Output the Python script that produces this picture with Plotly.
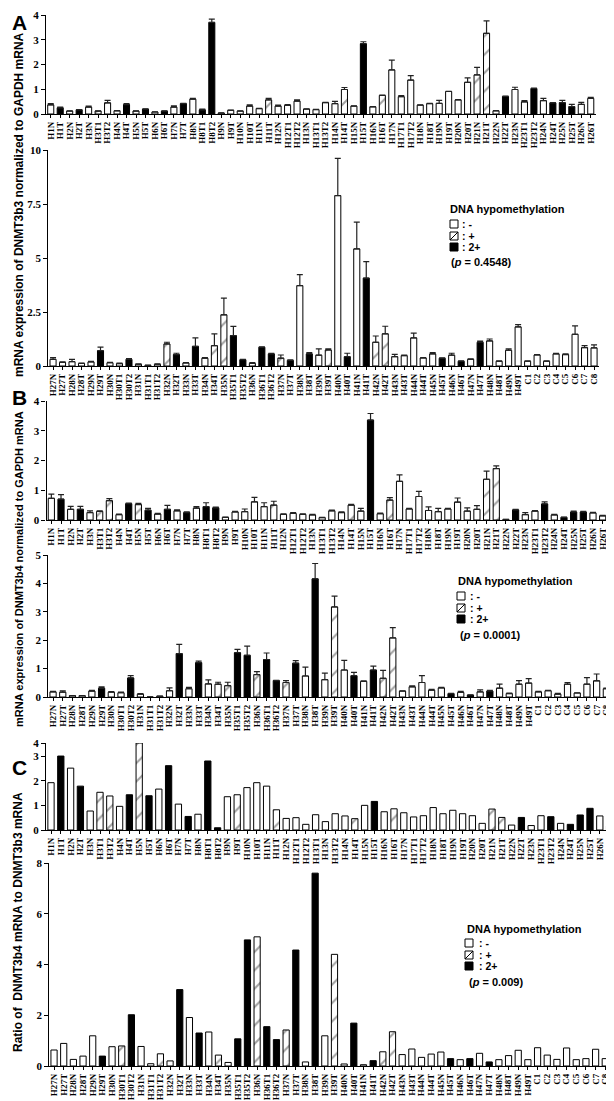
import plotly.graph_objects as go

W, H = 614, 1101

# ---------------- categories ----------------
top_samples = ["H1N", "H1T", "H2N", "H2T", "H3N", "H3T1", "H3T2", "H4N", "H4T", "H5N", "H5T",
               "H6N", "H6T", "H7N", "H7T", "H8N", "H8T1", "H8T2", "H9N", "H9T", "H10N", "H10T",
               "H11N", "H11T", "H12N", "H12T1", "H12T2", "H13N", "H13T1", "H13T2", "H14N", "H14T",
               "H15N", "H15T", "H16N", "H16T", "H17N", "H17T1", "H17T2", "H18N", "H18T", "H19N",
               "H19T", "H20N", "H20T", "H21N", "H21T", "H22N", "H22T", "H23N", "H23T1", "H23T2",
               "H24N", "H24T", "H25N", "H25T", "H26N", "H26T"]
c_top_samples = ["H1N", "H1T", "H2N", "H2T", "H3N", "H3T1", "H3T2", "H4N", "H4T", "H5N", "H5T",
                 "H6N", "H6T", "H7N", "H7T", "H8N", "H8T1", "H8T2", "H9N", "H9T", "H10N", "H10T",
                 "H11N", "H11T", "H12N", "H12T1", "H12T2", "H13T1", "H13N", "H13T2", "H14N", "H14T",
                 "H15N", "H15T", "H16N", "H16T", "H17N", "H17T1", "H17T2", "H18N", "H18T", "H19N",
                 "H19T", "H20N", "H20T", "H21N", "H21T", "H22N", "H22T", "H23N", "H23T1", "H23T2",
                 "H24N", "H24T", "H25N", "H25T", "H26N", "H26T"]
bottom_samples = ["H27N", "H27T", "H28N", "H28T", "H29N", "H29T", "H30N", "H30T1", "H30T2", "H31N",
                  "H31T1", "H31T2", "H32N", "H32T", "H33N", "H33T", "H34N", "H34T", "H35N", "H35T1",
                  "H35T2", "H36N", "H36T1", "H36T2", "H37N", "H37T", "H38N", "H38T", "H39N", "H39T",
                  "H40N", "H40T", "H41N", "H41T", "H42N", "H42T", "H43N", "H43T", "H44N", "H44T",
                  "H45N", "H45T", "H46N", "H46T", "H47N", "H47T", "H48N", "H48T", "H49N", "H49T",
                  "C1", "C2", "C3", "C4", "C5", "C6", "C7", "C8"]

# DNA hypomethylation class per sample: o = "-", h = "+", b = "2+"
top_types = ["o", "b", "o", "b", "o", "h", "h", "o", "b", "h",
             "b", "o", "b", "o", "b", "o", "b", "b", "o", "h",
             "o", "o", "o", "h", "o", "o", "o", "o", "o", "o",
             "o", "h", "o", "b", "o", "h", "o", "o", "o", "o",
             "o", "o", "o", "o", "o", "h", "h", "o", "b", "o",
             "o", "b", "o", "b", "b", "b", "o", "o"]
bottom_types = ["o", "o", "o", "o", "o", "b", "o", "h", "b", "o",
                "o", "h", "o", "b", "o", "b", "o", "h", "h", "b",
                "b", "h", "b", "b", "h", "b", "o", "b", "o", "h",
                "o", "b", "o", "b", "h", "h", "o", "o", "o", "o",
                "o", "b", "o", "b", "o", "b", "o", "o", "o", "o",
                "o", "o", "o", "o", "o", "o", "o", "o"]
a_bottom_types = ["o", "o", "o", "o", "o", "b", "o", "h", "b", "o",
                  "o", "h", "h", "b", "o", "b", "o", "h", "h", "b",
                  "b", "h", "b", "b", "h", "b", "o", "b", "o", "h",
                  "o", "b", "o", "b", "h", "h", "o", "o", "o", "o",
                  "o", "b", "o", "b", "o", "b", "o", "o", "o", "o",
                  "o", "o", "o", "o", "o", "o", "o", "o"]

# ---------------- values ----------------
a_top_vals = [0.37, 0.25, 0.12, 0.17, 0.28, 0.12, 0.45, 0.13, 0.38, 0.12,
              0.20, 0.08, 0.12, 0.28, 0.42, 0.60, 0.17, 3.70, 0.04, 0.15,
              0.12, 0.32, 0.22, 0.57, 0.32, 0.35, 0.52, 0.20, 0.18, 0.46,
              0.42, 0.99, 0.32, 2.84, 0.29, 0.75, 1.78, 0.70, 1.37, 0.36,
              0.42, 0.43, 0.91, 0.57, 1.28, 1.58, 3.26, 0.13, 0.71, 0.99,
              0.49, 1.03, 0.54, 0.45, 0.46, 0.30, 0.39, 0.63]
a_top_err = [0.05, 0.03, 0.01, 0.01, 0.04, 0.01, 0.10, 0.01, 0.04, 0.01,
             0.01, 0.01, 0.01, 0.05, 0.01, 0.03, 0.03, 0.13, 0.01, 0.01,
             0.01, 0.05, 0.01, 0.06, 0.04, 0.03, 0.05, 0.01, 0.01, 0.01,
             0.09, 0.08, 0.01, 0.08, 0.01, 0.01, 0.40, 0.04, 0.18, 0.01,
             0.01, 0.12, 0.01, 0.01, 0.18, 0.30, 0.50, 0.01, 0.01, 0.09,
             0.05, 0.02, 0.09, 0.01, 0.09, 0.09, 0.08, 0.04]
a_bot_vals = [0.31, 0.17, 0.20, 0.12, 0.19, 0.71, 0.15, 0.11, 0.31, 0.08,
              0.03, 0.08, 1.02, 0.53, 0.14, 0.91, 0.36, 0.94, 2.37, 1.41,
              0.29, 0.12, 0.87, 0.56, 0.36, 0.26, 3.72, 0.56, 0.50, 0.74,
              7.89, 0.43, 5.42, 4.07, 1.10, 1.49, 0.43, 0.48, 1.30, 0.37,
              0.56, 0.36, 0.50, 0.22, 0.31, 1.10, 1.16, 0.22, 0.73, 1.81,
              0.22, 0.51, 0.22, 0.56, 0.53, 1.47, 0.85, 0.84]
a_bot_err = [0.08, 0.02, 0.11, 0.02, 0.03, 0.16, 0.02, 0.02, 0.03, 0.02,
             0.01, 0.02, 0.08, 0.06, 0.02, 0.39, 0.03, 0.55, 0.77, 0.42,
             0.02, 0.04, 0.02, 0.02, 0.15, 0.02, 0.51, 0.06, 0.29, 0.05,
             1.72, 0.16, 1.24, 0.76, 0.29, 0.35, 0.11, 0.02, 0.22, 0.02,
             0.06, 0.02, 0.09, 0.02, 0.02, 0.05, 0.09, 0.02, 0.06, 0.11,
             0.02, 0.02, 0.02, 0.02, 0.03, 0.39, 0.09, 0.14]

b_top_vals = [0.73, 0.70, 0.36, 0.36, 0.25, 0.29, 0.65, 0.18, 0.55, 0.52,
              0.33, 0.20, 0.36, 0.31, 0.25, 0.40, 0.45, 0.41, 0.09, 0.27,
              0.28, 0.61, 0.45, 0.50, 0.19, 0.22, 0.19, 0.17, 0.08, 0.31,
              0.25, 0.50, 0.30, 3.36, 0.21, 0.67, 1.30, 0.37, 0.79, 0.32,
              0.28, 0.37, 0.60, 0.30, 0.36, 1.37, 1.73, 0.02, 0.34, 0.18,
              0.30, 0.54, 0.17, 0.09, 0.27, 0.27, 0.24, 0.14]
b_top_err = [0.14, 0.15, 0.10, 0.10, 0.06, 0.02, 0.07, 0.02, 0.02, 0.04,
             0.06, 0.02, 0.13, 0.03, 0.02, 0.05, 0.13, 0.02, 0.01, 0.02,
             0.09, 0.15, 0.13, 0.13, 0.02, 0.03, 0.02, 0.02, 0.01, 0.02,
             0.02, 0.03, 0.09, 0.22, 0.02, 0.08, 0.22, 0.02, 0.17, 0.12,
             0.11, 0.02, 0.14, 0.11, 0.12, 0.27, 0.09, 0.00, 0.02, 0.07,
             0.02, 0.07, 0.02, 0.01, 0.03, 0.02, 0.02, 0.02]
b_bot_vals = [0.18, 0.17, 0.05, 0.05, 0.21, 0.31, 0.17, 0.15, 0.67, 0.10,
              0.00, 0.03, 0.22, 1.53, 0.29, 1.21, 0.46, 0.45, 0.40, 1.56,
              1.47, 0.79, 1.32, 0.58, 0.51, 1.19, 0.74, 4.16, 0.61, 3.17,
              0.95, 0.75, 0.55, 0.95, 0.66, 2.08, 0.21, 0.36, 0.51, 0.24,
              0.32, 0.12, 0.16, 0.07, 0.18, 0.21, 0.31, 0.12, 0.45, 0.49,
              0.18, 0.22, 0.10, 0.45, 0.14, 0.45, 0.57, 0.29]
b_bot_err = [0.02, 0.05, 0.00, 0.00, 0.02, 0.05, 0.02, 0.02, 0.08, 0.02,
             0.00, 0.00, 0.10, 0.32, 0.05, 0.05, 0.14, 0.07, 0.12, 0.12,
             0.32, 0.10, 0.23, 0.01, 0.07, 0.09, 0.31, 0.54, 0.23, 0.38,
             0.34, 0.12, 0.02, 0.14, 0.28, 0.36, 0.01, 0.03, 0.24, 0.03,
             0.02, 0.01, 0.04, 0.01, 0.07, 0.02, 0.14, 0.02, 0.13, 0.16,
             0.02, 0.01, 0.03, 0.06, 0.01, 0.23, 0.24, 0.02]

c_top_vals = [1.92, 3.00, 2.51, 1.78, 0.77, 1.53, 1.38, 0.96, 1.43, 4.00,
              1.39, 1.66, 2.61, 1.05, 0.55, 0.64, 2.80, 0.09, 1.35, 1.43,
              1.72, 1.92, 1.78, 0.82, 0.47, 0.50, 0.23, 0.62, 0.34, 0.66,
              0.57, 0.46, 1.00, 1.16, 0.74, 0.86, 0.70, 0.53, 0.58, 0.91,
              0.66, 0.80, 0.66, 0.58, 0.27, 0.85, 0.51, 0.20, 0.51, 0.18,
              0.58, 0.54, 0.27, 0.23, 0.61, 0.88, 0.57, 0.16]
c_bot_vals = [0.63, 0.89, 0.26, 0.39, 1.19, 0.39, 0.76, 0.79, 2.02, 0.77,
              0.09, 0.48, 0.20, 3.01, 1.91, 1.30, 1.34, 0.43, 0.14, 1.07,
              4.97, 5.09, 1.55, 1.04, 1.42, 4.57, 0.16, 7.60, 1.19, 4.40,
              0.08, 1.69, 0.05, 0.21, 0.56, 1.35, 0.45, 0.67, 0.34, 0.47,
              0.55, 0.29, 0.25, 0.29, 0.50, 0.16, 0.25, 0.41, 0.62, 0.25,
              0.72, 0.43, 0.26, 0.71, 0.25, 0.29, 0.66, 0.29]

p_values = ["0.4548", "0.0001", "0.009"]

# C top axis is broken above 3 (the 3-4 segment is compressed)
C_BREAK, C_SQUEEZE = 3.0, 0.53


def c_top_scale(v):
    return v if v <= C_BREAK else C_BREAK + (v - C_BREAK) * C_SQUEEZE


FILL = {"o": "white", "h": "white", "b": "black"}
SHAPE = {"o": "", "h": "/", "b": ""}

SERIF = "Liberation Serif"
SANS = "Liberation Sans"


def px_x(px):
    return px / W


def px_y(py):
    return 1 - py / H


# panel geometry (pixels): x0, x1, ytop, ybottom
panels = [
    dict(x=top_samples, y=a_top_vals, err=a_top_err, types=top_types, box=(38, 587.5, 7, 106),
         ticks=[0, 1, 2, 3, 4], text=["0", "1", "2", "3", "4"], rng=4),
    dict(x=bottom_samples, y=a_bot_vals, err=a_bot_err, types=a_bottom_types, box=(40.3, 590.8, 142, 358),
         ticks=[0, 2.5, 5, 7.5, 10], text=["0", "2.5", "5", "7.5", "10"], rng=10),
    dict(x=top_samples, y=b_top_vals, err=b_top_err, types=top_types, box=(38.5, 599.5, 393, 512),
         ticks=[0, 1, 2, 3, 4], text=["0", "1", "2", "3", "4"], rng=4),
    dict(x=bottom_samples, y=b_bot_vals, err=b_bot_err, types=bottom_types, box=(40.2, 603.2, 547, 689),
         ticks=[0, 1, 2, 3, 4, 5], text=["0", "1", "2", "3", "4", "5"], rng=5),
    dict(x=c_top_samples, y=[c_top_scale(v) for v in c_top_vals], err=None, types=top_types,
         box=(38.1, 606.5, 735, 822),
         ticks=[c_top_scale(t) for t in [0, 1, 2, 3, 4]], text=["0", "1", "2", "3", "4"],
         rng=c_top_scale(4)),
    dict(x=bottom_samples, y=c_bot_vals, err=None, types=bottom_types, box=(41.2, 602.1, 855, 1058),
         ticks=[0, 2, 4, 6, 8], text=["0", "2", "4", "6", "8"], rng=8),
]

fig = go.Figure()
layout = {}
for i, p in enumerate(panels, start=1):
    sfx = "" if i == 1 else str(i)
    err = p["err"]
    fig.add_trace(go.Bar(
        x=p["x"], y=p["y"], xaxis="x" + sfx, yaxis="y" + sfx,
        width=0.64,
        marker=dict(
            color=[FILL[t] for t in p["types"]],
            line=dict(color="black", width=1),
            pattern=dict(shape=[SHAPE[t] for t in p["types"]], fgcolor="black",
                         bgcolor="white", size=13, solidity=0.16, fillmode="overlay"),
        ),
        error_y=dict(type="data", symmetric=False, array=err if err else [0] * len(p["y"]),
                     arrayminus=[0] * len(p["y"]), color="#222222", thickness=1.2, width=3,
                     visible=err is not None),
        showlegend=False, hoverinfo="skip",
    ))
    x0, x1, yt, yb = p["box"]
    layout["xaxis" + sfx] = dict(
        domain=[px_x(x0), px_x(x1)], anchor="y" + sfx, type="category",
        categoryorder="array", categoryarray=p["x"], range=[-0.5, len(p["x"]) - 0.5],
        tickmode="array", tickvals=p["x"], ticktext=p["x"], tickangle=-90,
        ticks="outside", ticklen=3, tickwidth=1, tickcolor="black",
        showline=True, linecolor="black", linewidth=1.2, showgrid=False, zeroline=False,
        tickfont=dict(family=SERIF, size=9, color="black", weight="bold"),
        automargin=False, fixedrange=True,
    )
    layout["yaxis" + sfx] = dict(
        domain=[px_y(yb), px_y(yt)], anchor="x" + sfx, range=[0, p["rng"]],
        tickmode="array", tickvals=p["ticks"], ticktext=p["text"],
        ticks="outside", ticklen=4, tickwidth=1, tickcolor="black",
        showline=True, linecolor="black", linewidth=1.2, showgrid=False, zeroline=False,
        tickfont=dict(family=SERIF, size=11, color="black", weight="bold"),
        automargin=False, fixedrange=True,
    )

annotations = []
shapes = []

# panel letters
for letter, yc in [("A", 15), ("B", 389), ("C", 759)]:
    annotations.append(dict(text="<b>%s</b>" % letter, x=px_x(2), y=px_y(yc), xref="paper", yref="paper",
                            xanchor="left", yanchor="middle", showarrow=False,
                            font=dict(family=SANS, size=21, color="black")))

# y-axis titles
for txt, yc, xc, size in [
    ("mRNA expression of DNMT3b3 normalized to GAPDH mRNA", 197, 11, 12),
    ("mRNA expression of DNMT3b4 normalized to GAPDH mRNA", 561, 11, 11),
    ("Ratio of  DNMT3b4 mRNA to DNMT3b3 mRNA", 914, 10, 12),
]:
    annotations.append(dict(text="<b>%s</b>" % txt, x=px_x(xc), y=px_y(yc), xref="paper", yref="paper",
                            xanchor="center", yanchor="middle", textangle=-90, showarrow=False,
                            font=dict(family=SANS, size=size, color="black")))

# legends: (title x, title y, box x, text x, row ys, p y, p x)
legends = [
    (440, 201, 442, 452, [216, 228, 239], 254, 441, p_values[0]),
    (448, 573, 449, 460, [588, 600, 611], 627, 450, p_values[1]),
    (457, 921, 457, 469, [935, 947, 958], 974, 459, p_values[2]),
]
for tx, ty, bx, txx, rows, py, pxx, pv in legends:
    annotations.append(dict(text="<b>DNA hypomethylation</b>", x=px_x(tx), y=px_y(ty), xref="paper",
                            yref="paper", xanchor="left", yanchor="middle", showarrow=False,
                            font=dict(family=SANS, size=11, color="black")))
    for r, (lab, kind) in zip(rows, [(": -", "o"), (": +", "h"), (": 2+", "b")]):
        s = 8
        shapes.append(dict(type="rect", xref="paper", yref="paper",
                           x0=px_x(bx), x1=px_x(bx + s), y0=px_y(r + s / 2), y1=px_y(r - s / 2),
                           line=dict(color="black", width=1), fillcolor=FILL[kind]))
        if kind == "h":
            shapes.append(dict(type="line", xref="paper", yref="paper",
                               x0=px_x(bx), x1=px_x(bx + s), y0=px_y(r + s / 2), y1=px_y(r - s / 2),
                               line=dict(color="black", width=1)))
        annotations.append(dict(text="<b>%s</b>" % lab, x=px_x(txx), y=px_y(r), xref="paper", yref="paper",
                                xanchor="left", yanchor="middle", showarrow=False,
                                font=dict(family=SANS, size=10.5, color="black")))
    annotations.append(dict(text="<b>(<i>p</i> = %s)</b>" % pv, x=px_x(pxx), y=px_y(py), xref="paper",
                            yref="paper", xanchor="left", yanchor="middle", showarrow=False,
                            font=dict(family=SANS, size=11, color="black")))

fig.update_layout(
    width=W, height=H, margin=dict(l=0, r=0, t=0, b=0),
    paper_bgcolor="white", plot_bgcolor="white",
    barmode="overlay", showlegend=False,
    annotations=annotations, shapes=shapes,
    **layout,
)

fig.write_html("out.html")
